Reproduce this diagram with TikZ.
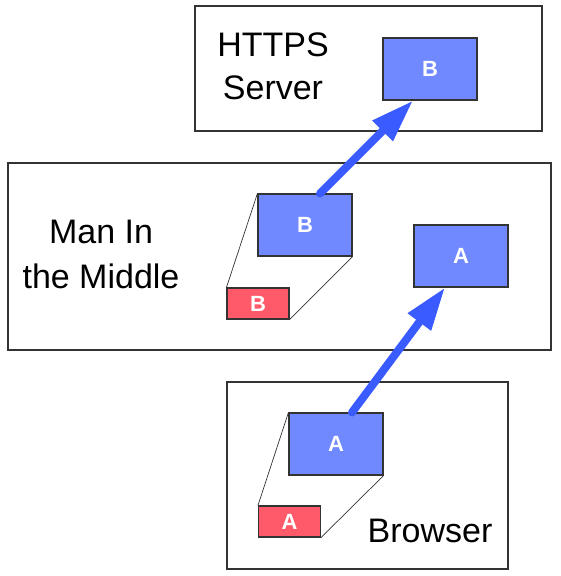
\documentclass[tikz,border=0pt]{standalone}
\usepackage{fontspec}
\setmainfont{Liberation Sans}
\usetikzlibrary{arrows.meta,calc}
\definecolor{boxblue}{HTML}{7189FF}
\definecolor{boxred}{HTML}{FF5A6A}
\definecolor{arrowblue}{HTML}{3A5BFF}
\definecolor{edge}{HTML}{333333}
\begin{document}
\begin{tikzpicture}[x=1pt,y=-1pt,
  frame/.style={draw=edge,line width=1.1pt,rectangle,inner sep=0pt},
  bluebox/.style={draw=edge,line width=1.1pt,fill=boxblue,rectangle,inner sep=0pt,
    minimum width=94pt,minimum height=62pt,text=white,font=\fontsize{22}{26}\selectfont\bfseries},
  redbox/.style={draw=edge,line width=1.1pt,fill=boxred,rectangle,inner sep=0pt,
    minimum width=62pt,minimum height=31pt,text=white,font=\fontsize{22}{26}\selectfont\bfseries},
  label/.style={inner sep=0pt,align=center,font=\fontsize{34}{43}\selectfont},
  proj/.style={draw=edge,line width=0.7pt},
  flow/.style={draw=arrowblue,line width=8pt,line cap=round,
    -{Triangle[length=43pt,width=27pt]}}]
\useasboundingbox (0,0) rectangle (560,576);
\fill[white] (0,0) rectangle (560,576);
% frames
\node[frame,minimum width=347pt,minimum height=125pt] (server) at (368.5,68.5) {};
\node[frame,minimum width=543pt,minimum height=187pt] (mitm) at (279.5,256.5) {};
\node[frame,minimum width=281pt,minimum height=187pt] (browser) at (367.5,475.5) {};
% labels
\node[label,anchor=base] (serverlbl) at (273,99) {HTTPS\\Server};
\node[label,anchor=base,font=\fontsize{34}{45}\selectfont] (mitmlbl) at (101,288) {Man In\\the Middle};
\node[label,anchor=base] (browserlbl) at (430,542) {Browser};
% boxes
\node[bluebox] (bs) at (430,69) {B};
\node[bluebox] (bm) at (305,225) {B};
\node[bluebox] (am) at (461,256) {A};
\node[bluebox] (ab) at (336,444) {A};
\node[redbox] (rb) at (258,303.5) {B};
\node[redbox] (ra) at (289.5,521.5) {A};
% projection lines
\draw[proj] (bm.north west) -- (rb.north west);
\draw[proj] (bm.south east) -- (rb.south east);
\draw[proj] (ab.north west) -- (ra.north west);
\draw[proj] (ab.south east) -- (ra.south east);
% arrows
\draw[flow] ([xshift=15pt]bm.north) -- ([xshift=-17pt]bs.south);
\draw[flow] ([xshift=16pt]ab.north) -- ([xshift=-16pt]am.south);
\end{tikzpicture}
\end{document}
